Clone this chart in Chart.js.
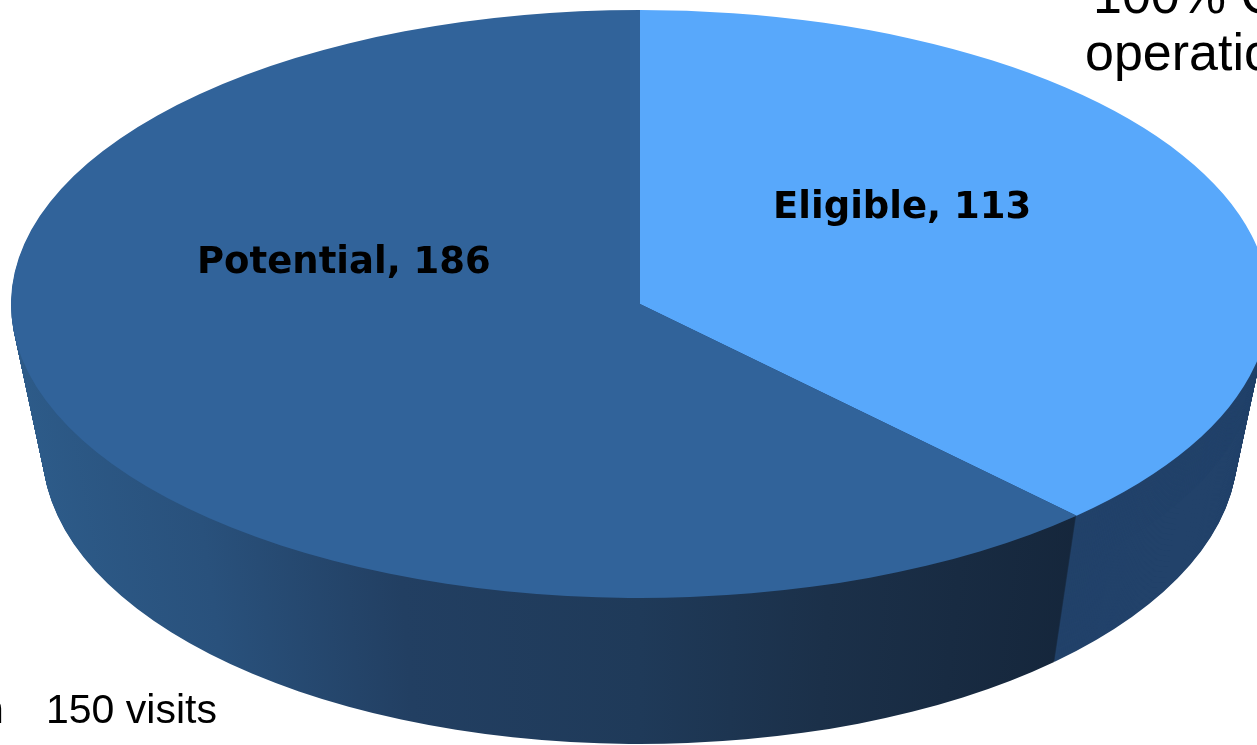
<!DOCTYPE html>
<html>
<head>
<meta charset="utf-8">
<script src="https://cdn.jsdelivr.net/npm/chart.js@4"></script>
<style>
  html, body { margin: 0; padding: 0; background: #fff; overflow: hidden; }
  #wrap { position: relative; width: 1257px; height: 745px; }
</style>
</head>
<body>
<div id="wrap"><canvas id="myChart"></canvas></div>
<script>
// datos del grafico
const categorias = ['Eligible', 'Potential'];
const valores = [113, 186];
const coloresTapa = ['#58a8fb', '#31639a'];
const notaArriba = ['100% C', 'operatio'];
const notaAbajo = ['n', '150 visits'];

// geometria de la elipse en pantalla (pie inclinado)
const CX = 640, CY = 304, RX = 629, RY = 294, PROFUNDIDAD = 146;
const ENCOGE = 0.05; // la base se ve un poco mas angosta (perspectiva)

function colorLado(ctx, R, i) {
    if (i === 0) return '#22426a';
    const g = ctx.createLinearGradient(-R, 0, R, 0);
    g.addColorStop(0, '#2d5b89');
    g.addColorStop(0.15, '#29517c');
    g.addColorStop(0.31, '#223f62');
    g.addColorStop(0.5, '#1f3a59');
    g.addColorStop(0.65, '#1b3049');
    g.addColorStop(0.86, '#15263b');
    g.addColorStop(1, '#14243a');
    return g;
}

const pie3d = {
    id: 'pie3d',
    beforeDatasetsDraw(chart) {
        const ctx = chart.ctx;
        const arcos = chart.getDatasetMeta(0).data;
        const { x, y, outerRadius: R } = arcos[0];
        const sy = RY / R;
        ctx.save();
        ctx.translate(CX, CY);
        ctx.scale(RX / R, sy);
        ctx.translate(-x, -y);

        // lado (grosor) del pie: capas de abajo hacia arriba
        const rellenos = arcos.map((a, i) => colorLado(ctx, R, i));
        for (let d = PROFUNDIDAD; d >= 1; d--) {
            const off = d / sy;
            const f = 1 - ENCOGE * d / PROFUNDIDAD;
            ctx.save();
            ctx.translate(x, y + off);
            ctx.scale(f, 1);
            arcos.forEach((a, i) => {
                ctx.beginPath();
                ctx.moveTo(0, 0);
                ctx.arc(0, 0, R, a.startAngle, a.endAngle);
                ctx.closePath();
                ctx.fillStyle = rellenos[i];
                ctx.fill();
            });
            ctx.restore();
        }
    },
    afterDatasetsDraw(chart) {
        chart.ctx.restore();
    },
    afterDraw(chart) {
        const ctx = chart.ctx;
        ctx.save();
        ctx.fillStyle = '#000';
        ctx.textAlign = 'left';
        ctx.textBaseline = 'alphabetic';

        // etiquetas de datos
        ctx.font = 'bold 37px "DejaVu Sans", Verdana, sans-serif';
        ctx.fillText(categorias[0] + ', ' + valores[0], 773, 218);
        ctx.fillText(categorias[1] + ', ' + valores[1], 197, 273);

        // textos recortados en los bordes
        ctx.font = '52px "Liberation Sans", Arial, sans-serif';
        ctx.fillText(notaArriba[0], 1093, 13);
        ctx.fillText(notaArriba[1], 1085, 70);

        ctx.font = '41px "Liberation Sans", Arial, sans-serif';
        ctx.fillText(notaAbajo[0], -19, 723);
        ctx.fillText(notaAbajo[1], 46, 723);
        ctx.restore();
    }
};

const ctx = document.getElementById('myChart');

const grafica = new Chart(ctx, {
    type: 'pie',
    data: {
        labels: categorias,
        datasets: [{
            data: valores,
            backgroundColor: coloresTapa,
            borderWidth: 0,
            clip: false
        }]
    },
    options: {
        responsive: true,
        maintainAspectRatio: false,
        animation: false,
        events: [],
        plugins: {
            legend: { display: false },
            tooltip: { enabled: false }
        }
    },
    plugins: [pie3d]
});
</script>
</body>
</html>
